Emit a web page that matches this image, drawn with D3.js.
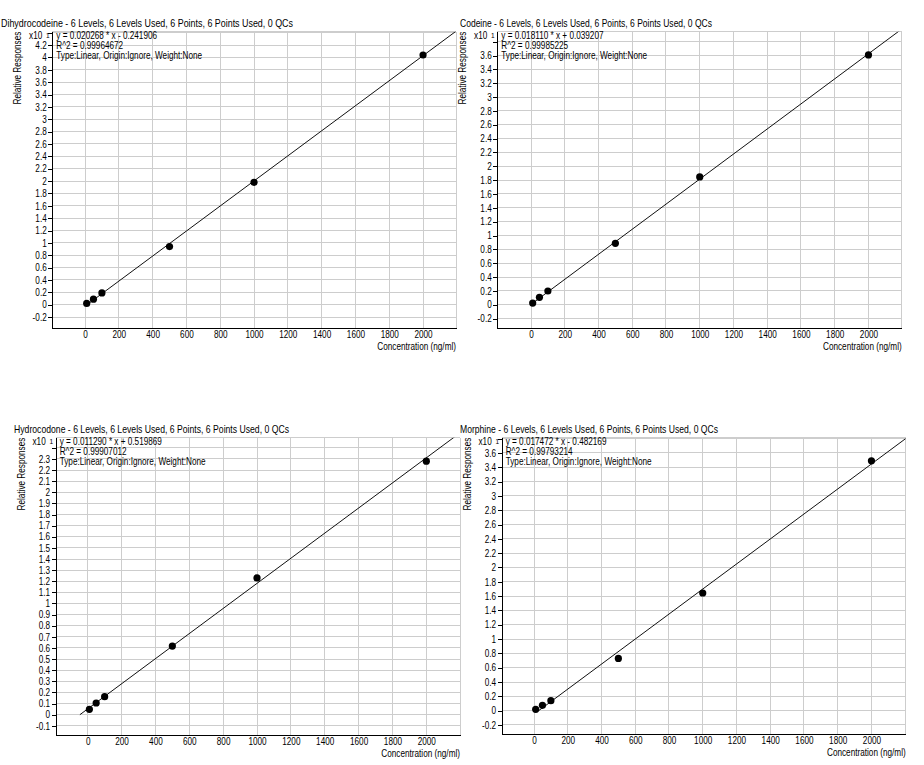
<!DOCTYPE html>
<html>
<head>
<meta charset="utf-8">
<script src="https://cdn.jsdelivr.net/npm/d3@7"></script>
<style>
  html, body { margin: 0; padding: 0; background: #fff; }
  svg { display: block; }
  text { font-family: "Liberation Sans", Arial, sans-serif; fill: #000; }
</style>
</head>
<body>
<svg id="chart" width="924" height="765"></svg>
<script>
// ---------------- data ----------------
const concentrations = [10, 50, 100, 500, 1000, 2000];
const dihydrocodeineResp = [0.02, 0.09, 0.19, 0.94, 1.98, 4.04];
const codeineResp        = [0.024, 0.106, 0.198, 0.887, 1.846, 3.61];
const hydrocodoneResp    = [0.048, 0.105, 0.162, 0.617, 1.23, 2.28];
const morphineResp       = [0.019, 0.075, 0.14, 0.73, 1.644, 3.49];

const compounds  = ["Dihydrocodeine", "Codeine", "Hydrocodone", "Morphine"];
const responses  = [dihydrocodeineResp, codeineResp, hydrocodoneResp, morphineResp];
const slopes     = [0.020268, 0.018110, 0.011290, 0.017472];
const intercepts = [-0.241906, 0.039207, 0.519869, -0.482169];
const rSquared   = ["0.99964672", "0.99985225", "0.99907012", "0.99793214"];
const fitInfo    = "Type:Linear, Origin:Ignore, Weight:None";
const titleSuffix = " - 6 Levels, 6 Levels Used, 6 Points, 6 Points Used, 0 QCs";
const xTicks     = [0, 200, 400, 600, 800, 1000, 1200, 1400, 1600, 1800, 2000];
const yTickSteps = [0.2, 0.2, 0.1, 0.2];
const yExponent  = 1;           // axis shown as x10^1
const xAxisTitle = "Concentration (ng/ml)";
const yAxisTitle = "Relative Responses";

// ---------------- layout ----------------
const layout = [
  { left: 52.3,  right: 456,   top: 31.7,  bottom: 328.3, xd: [-193.5, 2195], yd: [-0.382, 4.417], tx: 1,   tl: 292 },
  { left: 497.3, right: 901.7, top: 31.7,  bottom: 328.3, xd: [-199.8, 2197], yd: [-0.341, 3.945], tx: 460, tl: 252 },
  { left: 55.7,  right: 460,   top: 437.7, bottom: 735,   xd: [-189,   2199], yd: [-0.1826, 2.491], tx: 14, tl: 275 },
  { left: 501.7, right: 905.7, top: 437.7, bottom: 734.3, xd: [-191.5, 2203], yd: [-0.330, 3.813], tx: 460, tl: 258 }
];
const SX = 0.82;          // horizontal squeeze of the narrow UI font
const GRID = "#cdcdcd";

const svg = d3.select("#chart");

function txt(g, x, y, s, anchor, size, extra) {
  return g.append("text")
    .attr("transform", `translate(${x},${y}) ${extra || ""} scale(${SX},1)`)
    .attr("text-anchor", anchor || "start")
    .style("font-size", (size || 10) + "px")
    .text(s);
}

layout.forEach((L, i) => {
  const g = svg.append("g");
  const x = d3.scaleLinear().domain(L.xd).range([L.left, L.right]);
  const y = d3.scaleLinear().domain(L.yd).range([L.bottom, L.top]);
  const step = yTickSteps[i];
  const yTicks = d3.range(Math.ceil(L.yd[0] / step - 1e-9), Math.floor(L.yd[1] / step + 1e-9) + 1)
                   .map(k => +(k * step).toFixed(2));

  const clipId = "clip" + i;
  svg.append("clipPath").attr("id", clipId)
     .append("rect").attr("x", L.left).attr("y", L.top)
     .attr("width", L.right - L.left).attr("height", L.bottom - L.top);

  // grid
  const grid = g.append("g").attr("shape-rendering", "crispEdges")
                .attr("stroke", GRID).attr("stroke-width", 1);
  grid.selectAll("line.v").data(xTicks).join("line")
      .attr("x1", d => x(d)).attr("x2", d => x(d))
      .attr("y1", L.top).attr("y2", L.bottom);
  grid.selectAll("line.h").data(yTicks).join("line")
      .attr("x1", L.left).attr("x2", L.right)
      .attr("y1", d => y(d)).attr("y2", d => y(d));
  grid.append("line").attr("x1", L.left).attr("x2", L.right).attr("y1", L.top).attr("y2", L.top);
  grid.append("line").attr("x1", L.right).attr("x2", L.right).attr("y1", L.top).attr("y2", L.bottom);

  // annotation text (inside plot)
  const ann = g.append("g");
  const sgn = intercepts[i] < 0 ? "-" : "+";
  txt(ann, L.left + 4, L.top + 7,  `y = ${slopes[i].toFixed(6)} * x ${sgn} ${Math.abs(intercepts[i]).toFixed(6)}`);
  txt(ann, L.left + 4, L.top + 17, `R^2 = ${rSquared[i]}`);
  txt(ann, L.left + 4, L.top + 27, fitInfo);

  // regression line
  const x0 = -intercepts[i] / slopes[i];
  const fx = v => (slopes[i] * v + intercepts[i]) / Math.pow(10, yExponent);
  g.append("line").attr("clip-path", `url(#${clipId})`)
    .attr("x1", x(x0)).attr("y1", y(fx(x0)))
    .attr("x2", x(L.xd[1])).attr("y2", y(fx(L.xd[1])))
    .attr("stroke", "#111").attr("stroke-width", 1);

  // points
  g.append("g").selectAll("circle").data(concentrations).join("circle")
    .attr("cx", d => x(d)).attr("cy", (d, j) => y(responses[i][j]))
    .attr("r", 3.6).attr("fill", "#000");

  // y axis
  const ya = g.append("g").attr("transform", `translate(${L.left},0)`)
    .call(d3.axisLeft(y).tickValues(yTicks).tickSize(4).tickSizeOuter(0)
          .tickFormat(d => String(+d.toFixed(1))));
  ya.selectAll("path,line").attr("stroke", "#000").attr("shape-rendering", "crispEdges");
  ya.selectAll("text")
    .style("font-size", "10px").style("font-family", '"Liberation Sans", Arial, sans-serif')
    .attr("x", -5.6 / SX).attr("transform", `scale(${SX},1)`)
    .style("display", d => (y(d) - L.top < 12 ? "none" : null));
  ya.attr("font-family", null).attr("font-size", null);

  // x axis
  const xa = g.append("g").attr("transform", `translate(0,${L.bottom})`)
    .call(d3.axisBottom(x).tickValues(xTicks).tickSize(0).tickPadding(3).tickSizeOuter(0)
          .tickFormat(d3.format("d")));
  xa.selectAll("path").attr("stroke", "#000").attr("shape-rendering", "crispEdges");
  xa.selectAll("text")
    .style("font-size", "10px").style("font-family", '"Liberation Sans", Arial, sans-serif')
    .attr("transform", `scale(${SX},1)`);

  // exponent label
  txt(g, L.left - 10, L.top + 7.5, "x10", "end");
  txt(g, L.left - 4.5, L.top + 6, String(yExponent), "middle", 8);

  // axis titles
  txt(g, L.right, L.bottom + 22, xAxisTitle, "end");
  g.append("text")
    .attr("transform", `translate(${L.left - 31},${L.top}) rotate(-90) scale(${SX},1)`)
    .attr("text-anchor", "end")
    .style("font-size", "10px")
    .text(yAxisTitle);

  // title
  g.append("text")
    .attr("x", L.tx).attr("y", L.top - 4.5)
    .attr("textLength", L.tl).attr("lengthAdjust", "spacingAndGlyphs")
    .style("font-size", "11px")
    .text(compounds[i] + titleSuffix);
});
</script>
</body>
</html>
